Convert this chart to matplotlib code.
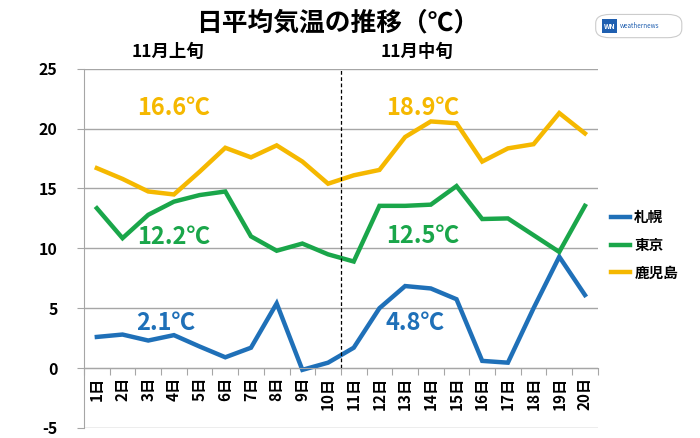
import numpy as np
import matplotlib
matplotlib.use("Agg")
import matplotlib.pyplot as plt
from matplotlib.patches import FancyBboxPatch, Rectangle

plt.rcParams['font.family'] = ['Noto Sans CJK JP', 'DejaVu Sans']
plt.rcParams['axes.unicode_minus'] = False

# data
days = [f"{d}日" for d in range(1, 21)]
sapporo = [2.6, 2.8, 2.3, 2.75, 1.8, 0.9, 1.7, 5.4, -0.15, 0.45,
           1.7, 5.0, 6.85, 6.65, 5.75, 0.6, 0.45, 5.0, 9.3, 6.1]
tokyo = [13.35, 10.85, 12.8, 13.9, 14.45, 14.75, 11.0, 9.8, 10.4, 9.5,
         8.9, 13.55, 13.55, 13.65, 15.2, 12.45, 12.5, 11.1, 9.7, 13.55]
kagoshima = [16.7, 15.8, 14.75, 14.5, 16.4, 18.4, 17.6, 18.6, 17.25, 15.4,
             16.1, 16.55, 19.3, 20.6, 20.45, 17.25, 18.35, 18.7, 21.3, 19.6]
names = ["札幌", "東京", "鹿児島"]
colors = ["#1f70b8", "#1aa64a", "#f5b800"]
# period averages (first and second ten days)
averages = [("2.1℃", "4.8℃"), ("12.2℃", "12.5℃"), ("16.6℃", "18.9℃")]
avg_pos_y = [(3.75, 3.75), (10.95, 11.0), (21.7, 21.7)]

fig = plt.figure(figsize=(7, 4.38), dpi=100)
ax = fig.add_axes([0.12, 0.023, 0.734, 0.82])

x = np.arange(len(days))
series = [sapporo, tokyo, kagoshima]
for vals, name, c in zip(series, names, colors):
    ax.plot(x, vals, color=c, lw=3.2, label=name, solid_joinstyle='miter')

# averages written on the chart
for (t1, t2), (y1, y2), c in zip(averages, avg_pos_y, colors):
    ax.text(1.55, y1, t1, color=c, fontsize=17, fontweight='bold', ha='left', va='center')
    ax.text(11.25, y2, t2, color=c, fontsize=17, fontweight='bold', ha='left', va='center')

ax.set_xlim(-0.5, 19.5)
ax.set_ylim(-5, 25)
ax.set_yticks(np.arange(-5, 26, 5))
ax.yaxis.grid(True, color='#a6a6a6', lw=1)
ax.set_axisbelow(True)

# category axis crossing at 0
ax.spines['bottom'].set_position(('data', 0))
ax.spines['bottom'].set_color('#a6a6a6')
ax.spines['left'].set_color('#a6a6a6')
ax.spines['top'].set_visible(False)
ax.spines['right'].set_visible(False)
ax.set_xticks(np.arange(-0.5, 20, 1))
ax.set_xticklabels([])
ax.set_xticks(x, minor=True)
ax.set_xticklabels(days, minor=True, rotation=90, fontsize=11, fontweight='bold')
ax.tick_params(axis='x', which='major', length=5, color='#a6a6a6')
ax.tick_params(axis='x', which='minor', length=0, pad=6)
ax.tick_params(axis='y', length=5, color='#a6a6a6', labelsize=11.5, pad=14)
for lab in ax.get_yticklabels():
    lab.set_fontweight('bold')

ax.plot([9.5, 9.5], [0, 25], color='black', lw=0.9, ls=(0, (3, 2)))

ax.text(2.75, 26.4, "11月上旬", fontsize=12.5, fontweight='bold', ha='center', va='center')
ax.text(12.45, 26.4, "11月中旬", fontsize=12.5, fontweight='bold', ha='center', va='center')

fig.text(0.483, 0.948, "日平均気温の推移（℃）", fontsize=18.5, fontweight='bold', ha='center', va='center')

leg = ax.legend(loc='center left', bbox_to_anchor=(1.0, 0.51), frameon=False,
                handlelength=1.3, handletextpad=0.3, labelspacing=0.8,
                prop={'size': 10.5, 'weight': 'bold'})

# small logo top right
logo = FancyBboxPatch((0.855, 0.918), 0.115, 0.045, boxstyle="round,pad=0.004,rounding_size=0.02",
                      transform=fig.transFigure, fc='white', ec='#cccccc', lw=0.8)
fig.patches.append(logo)
fig.patches.append(Rectangle((0.86, 0.924), 0.022, 0.033, transform=fig.transFigure,
                             fc='#1f5fb0', ec='none'))
fig.text(0.871, 0.9405, "WN", fontsize=5, color='white', fontweight='bold',
         ha='center', va='center', style='italic')
fig.text(0.885, 0.9405, "weathernews", fontsize=4.5, color='#1f5fb0',
         ha='left', va='center', style='italic')

fig.savefig("out.png", dpi=100)
